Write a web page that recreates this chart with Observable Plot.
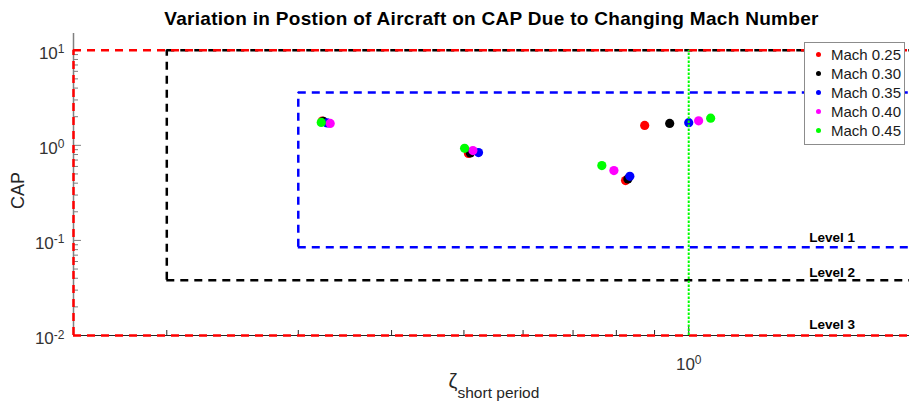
<!DOCTYPE html>
<html><head><meta charset="utf-8">
<script src="https://cdn.jsdelivr.net/npm/d3@7"></script>
<script src="https://cdn.jsdelivr.net/npm/@observablehq/plot@0.6"></script>
<style>
body{margin:0;background:#fff;}
#wrap{position:relative;width:909px;height:403px;overflow:hidden;background:#fff;}
#wrap svg{max-width:none !important;}
#legend{position:absolute;left:804px;top:42px;width:99px;height:101px;border:1px solid #8c8c8c;background:#fff;font-family:'Liberation Sans',Arial,sans-serif;font-size:15px;color:#1a1a1a;}
#legend .row{position:absolute;left:0;height:19px;line-height:19px;white-space:nowrap;}
#legend .dot{position:absolute;left:11px;top:7px;width:5px;height:5px;border-radius:50%;}
#legend .lab{position:absolute;left:26px;top:0;}
</style></head><body><div id="wrap"></div>
<script>
// ---- data ----
const seriesNames = ["Mach 0.25", "Mach 0.30", "Mach 0.35", "Mach 0.40", "Mach 0.45"];
const zetaM025 = [0.323, 0.507, 0.823, 0.873];
const capM025  = [1.80, 0.82, 0.426, 1.62];
const zetaM030 = [0.324, 0.510, 0.829, 0.943];
const capM030  = [1.79, 0.83, 0.443, 1.70];
const zetaM035 = [0.328, 0.523, 0.834, 1.000];
const capM035  = [1.72, 0.84, 0.472, 1.73];
const zetaM040 = [0.331, 0.514, 0.794, 1.031];
const capM040  = [1.70, 0.88, 0.542, 1.81];
const zetaM045 = [0.322, 0.501, 0.765, 1.070];
const capM045  = [1.74, 0.93, 0.612, 1.93];

const levelNames   = ["Level 1", "Level 2", "Level 3"];
const levelZetaMin = [0.30, 0.20, 0.15];
const levelZetaMax = [2.0, 2.0, 2.0];
const levelCapMin  = [0.085, 0.038, 0.01];
const levelCapMax  = [3.6, 10, 10];
const levelLabelZeta = [1.45, 1.45, 1.45];
const levelLabelCap  = [0.106, 0.0455, 0.0129];

const zetaRef = [1.0];
const xMajorTicks = [1];
const xMinorTicks = [0.2, 0.3, 0.4, 0.5, 0.6, 0.7, 0.8, 0.9];
const yMajorTicks = [0.01, 0.1, 1, 10];
const yMinorTicks = [0.02,0.03,0.04,0.05,0.06,0.07,0.08,0.09,0.2,0.3,0.4,0.5,0.6,0.7,0.8,0.9,2,3,4,5,6,7,8,9];

const titleText = "Variation in Postion of Aircraft on CAP Due to Changing Mach Number";

// ---- build ----
const seriesZeta = [zetaM025, zetaM030, zetaM035, zetaM040, zetaM045];
const seriesCap  = [capM025, capM030, capM035, capM040, capM045];
const seriesColors = ["#ff0000", "#000000", "#0000ff", "#ff00ff", "#00ff00"];
const levelColors = ["#0000ff", "#000000", "#ff0000"];

const W = 913, H = 403, ML = 73, MT = 33, MB = 68;
const FW = W - ML, FH = H - MT - MB;
const dash = "8,6";

const marks = [];
marks.push(Plot.ruleX([0.15], {stroke: "#808080", strokeWidth: 1.5}));
marks.push(Plot.ruleY([0.01], {stroke: "#262626"}));
marks.push(Plot.tickY(yMinorTicks, {y: d => d, stroke: "#808080", insetRight: FW - 5}));
marks.push(Plot.tickY(yMajorTicks, {y: d => d, stroke: "#808080", insetRight: FW - 8}));
marks.push(Plot.tickX(xMinorTicks, {x: d => d, stroke: "#262626", insetTop: FH - 5}));
marks.push(Plot.tickX(xMajorTicks, {x: d => d, stroke: "#262626", insetTop: FH - 8}));
marks.push(Plot.axisY({ticks: yMajorTicks, tickSize: 0, tickPadding: 9, dy: 3, fontSize: 17, label: null,
  tickFormat: d => "10^" + Math.round(Math.log10(d))}));
marks.push(Plot.axisX({ticks: xMajorTicks, tickSize: 0, tickPadding: 22, fontSize: 17, label: null,
  tickFormat: d => "10^" + Math.round(Math.log10(d))}));

// points
seriesNames.forEach((name, i) => {
  const rows = seriesZeta[i].map((z, j) => ({zeta: z, cap: seriesCap[i][j], series: name}));
  marks.push(Plot.dot(rows, {x: "zeta", y: "cap", r: 4.6, fill: seriesColors[i], stroke: "none"}));
});

// level boundaries
levelNames.forEach((name, i) => {
  const st = {stroke: levelColors[i], strokeWidth: 2.5, strokeDasharray: dash};
  marks.push(Plot.ruleX([levelZetaMin[i]], {y1: levelCapMin[i], y2: levelCapMax[i], ...st}));
  marks.push(Plot.ruleY([levelCapMin[i], levelCapMax[i]], {x1: levelZetaMin[i], x2: levelZetaMax[i], ...st}));
});

// reference zeta = 1 line
marks.push(Plot.ruleX(zetaRef, {y1: 0.01, y2: 10, stroke: "#00ff00", strokeWidth: 2, strokeDasharray: "2.5,1.5"}));

// level labels
marks.push(Plot.text(levelNames, {x: levelLabelZeta, y: levelLabelCap, text: d => d, textAnchor: "start",
  lineAnchor: "middle", fontWeight: "bold", fontSize: 13.5, fill: "#000"}));

// title & axis labels
marks.push(Plot.text([titleText], {frameAnchor: "top", dy: -15, dx: -2, lineAnchor: "middle", textAnchor: "middle",
  fontWeight: "bold", fontSize: 19, fill: "#000"}));
marks.push(Plot.text(["CAP"], {frameAnchor: "left", dx: -55, dy: 6, rotate: -90, textAnchor: "middle",
  lineAnchor: "middle", fontSize: 18, fill: "#262626"}));
marks.push(Plot.text(["\u03B6"], {frameAnchor: "bottom", dx: -45, dy: 46, textAnchor: "start",
  lineAnchor: "middle", fontSize: 20, fill: "#262626"}));
marks.push(Plot.text(["short period"], {frameAnchor: "bottom", dx: -36, dy: 58, textAnchor: "start",
  lineAnchor: "middle", fontSize: 15.5, fill: "#262626"}));

const svg = Plot.plot({
  width: W, height: H, marginLeft: ML, marginRight: 0, marginTop: MT, marginBottom: MB,
  style: {fontFamily: "'Liberation Sans', Arial, sans-serif", background: "white", color: "#333", maxWidth: "none"},
  x: {type: "log", domain: [0.15, 2]},
  y: {type: "log", domain: [0.01, 15]},
  marks
});
svg.style.maxWidth = "none";

// superscript exponents in tick labels; title spacing
const NS = "http://www.w3.org/2000/svg";
svg.querySelectorAll("text").forEach(t => {
  const m = /^10\^(-?\d+)$/.exec(t.textContent);
  if (m) {
    t.textContent = "";
    const a = document.createElementNS(NS, "tspan"); a.textContent = "10";
    const b = document.createElementNS(NS, "tspan"); b.textContent = m[1];
    b.setAttribute("dy", "-0.45em"); b.setAttribute("font-size", "12");
    t.append(a, b);
  } else if (t.textContent === titleText) {
    t.setAttribute("letter-spacing", "0.3");
  }
});

const wrap = document.getElementById("wrap");
wrap.appendChild(svg);

// legend
const leg = document.createElement("div");
leg.id = "legend";
seriesNames.forEach((name, i) => {
  const row = document.createElement("div");
  row.className = "row";
  row.style.top = (2 + i * 19) + "px";
  const dot = document.createElement("span"); dot.className = "dot"; dot.style.background = seriesColors[i];
  const lab = document.createElement("span"); lab.className = "lab"; lab.textContent = name;
  row.append(dot, lab);
  leg.appendChild(row);
});
wrap.appendChild(leg);
</script></body></html>
